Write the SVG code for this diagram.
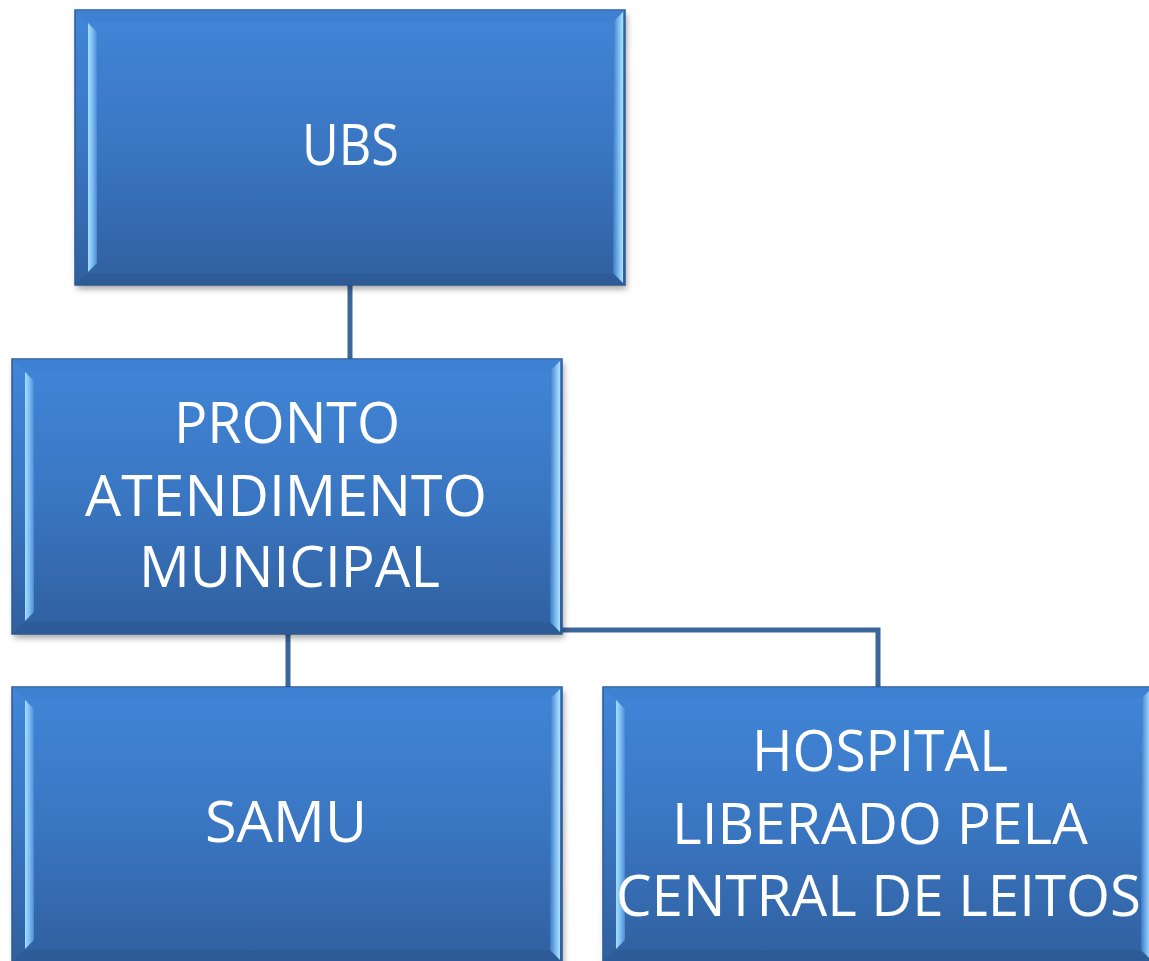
<svg xmlns="http://www.w3.org/2000/svg" width="1149" height="961" viewBox="0 0 1149 961">
  <defs>
    <linearGradient id="fill" x1="0" y1="0" x2="0" y2="1">
      <stop offset="0" stop-color="#4086d8"/>
      <stop offset="0.5" stop-color="#3a76c2"/>
      <stop offset="1" stop-color="#30609f"/>
    </linearGradient>
    <linearGradient id="leftBevel" x1="0" y1="0" x2="1" y2="0">
      <stop offset="0" stop-color="#a6dcff"/>
      <stop offset="0.5" stop-color="#7cbcf2"/>
      <stop offset="1" stop-color="#4a8ad4"/>
    </linearGradient>
    <linearGradient id="rightBevel" x1="0" y1="0" x2="1" y2="0">
      <stop offset="0" stop-color="#3d7ac6"/>
      <stop offset="0.6" stop-color="#7fbdf2"/>
      <stop offset="1" stop-color="#b0e2ff"/>
    </linearGradient>
    <filter id="shadow" x="-10%" y="-10%" width="120%" height="130%">
      <feGaussianBlur stdDeviation="3"/>
    </filter>
    <symbol id="box" viewBox="0 0 550 275" overflow="visible">
      <rect x="2" y="4" width="550" height="275" fill="#000" opacity="0.35" filter="url(#shadow)"/>
      <rect x="0" y="0" width="550" height="275" fill="url(#fill)" stroke="#2c5a92" stroke-width="1.5"/>
      <polygon points="0,0 550,0 538,12 12,12" fill="#3d7fce" opacity="0.6"/>
      <polygon points="0,275 550,275 538,263 12,263" fill="#2b578f" opacity="0.55"/>
      <polygon points="13,13 22,22 22,253 13,262" fill="url(#leftBevel)"/>
      <polygon points="538,12 548,2 548,273 538,263" fill="url(#rightBevel)"/>
    </symbol>
    <style>
      .lbl { font-family: "Open Sans", "Liberation Sans", sans-serif; font-size: 57px; fill: #ffffff; text-anchor: middle; }
      .conn { fill: none; stroke: #3b6699; stroke-width: 5; }
    </style>
  </defs>
  <rect width="1149" height="961" fill="#ffffff"/>

  <g id="connectors">
    <line class="conn" x1="350" y1="280" x2="350" y2="362"/>
    <line class="conn" x1="288" y1="630" x2="288" y2="690"/>
    <path class="conn" d="M288,630 H878 V690"/>
  </g>

  <g id="node-ubs">
    <use href="#box" x="75" y="10" width="550" height="275"/>
    <text class="lbl" x="350.5" y="165" textLength="97" lengthAdjust="spacingAndGlyphs">UBS</text>
  </g>

  <g id="node-pronto">
    <use href="#box" x="12" y="359" width="550" height="275"/>
    <text class="lbl" x="287" y="443" textLength="226" lengthAdjust="spacingAndGlyphs">PRONTO</text>
    <text class="lbl" x="286" y="516" textLength="402" lengthAdjust="spacingAndGlyphs">ATENDIMENTO</text>
    <text class="lbl" x="289.5" y="587" textLength="301" lengthAdjust="spacingAndGlyphs">MUNICIPAL</text>
  </g>

  <g id="node-samu">
    <use href="#box" x="12" y="687" width="550" height="275"/>
    <text class="lbl" x="286" y="842" textLength="162" lengthAdjust="spacingAndGlyphs">SAMU</text>
  </g>

  <g id="node-hospital">
    <use href="#box" x="603" y="687" width="550" height="275"/>
    <text class="lbl" x="880" y="771" textLength="256" lengthAdjust="spacingAndGlyphs">HOSPITAL</text>
    <text class="lbl" x="880" y="844" textLength="416" lengthAdjust="spacingAndGlyphs">LIBERADO PELA</text>
    <text class="lbl" x="878.5" y="916" textLength="525" lengthAdjust="spacingAndGlyphs">CENTRAL DE LEITOS</text>
  </g>
</svg>
